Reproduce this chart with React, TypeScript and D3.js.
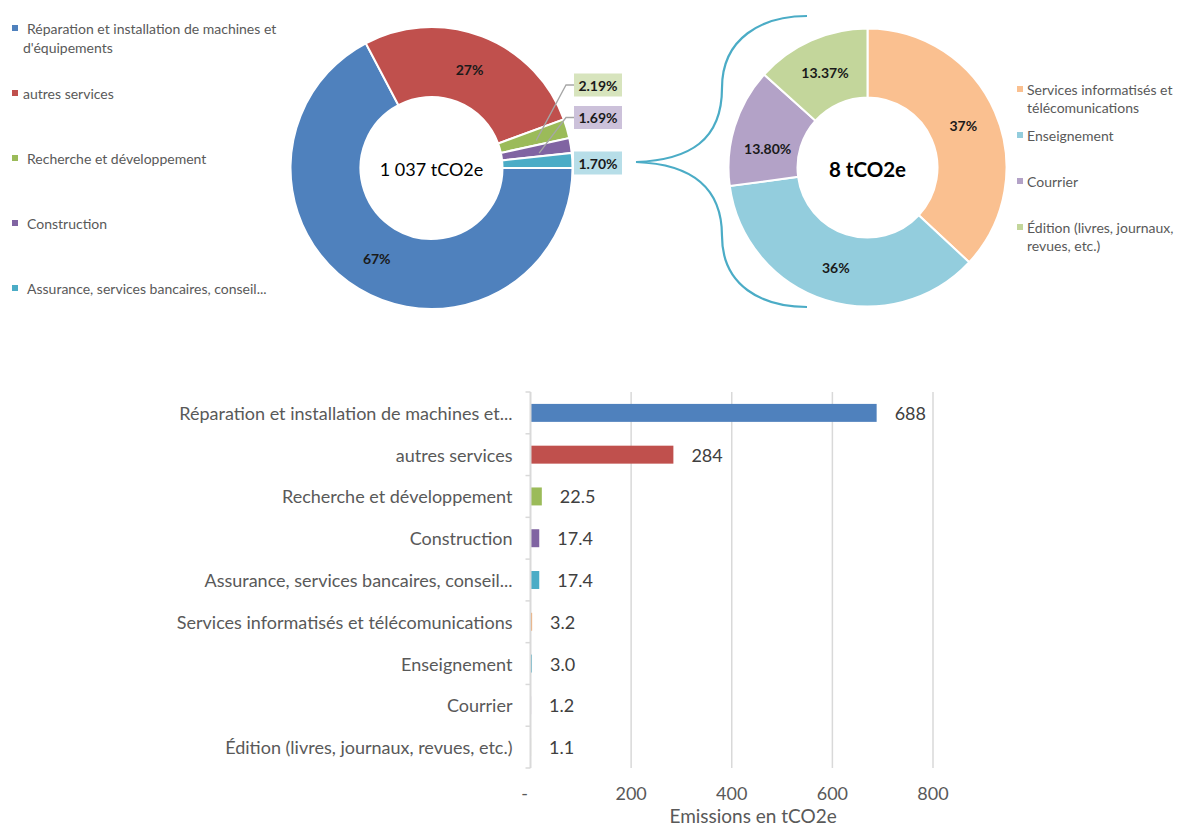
import React from "react";
import * as d3 from "d3";

// ---- data ----
const mainSectors = [
  "Réparation et installation de machines et d'équipements",
  "autres services",
  "Recherche et développement",
  "Construction",
  "Assurance, services bancaires, conseil...",
];
const mainShares = [67, 27, 2.19, 1.69, 1.7];
const mainColors = ["#4F81BD", "#C0504D", "#9BBB59", "#8064A2", "#4BACC6"];
const mainTotal = "1 037 tCO2e";

const detailSectors = [
  "Services informatisés et télécomunications",
  "Enseignement",
  "Courrier",
  "Édition (livres, journaux, revues, etc.)",
];
const detailShares = [37, 36, 13.8, 13.37];
const detailColors = ["#FAC090", "#93CDDD", "#B3A2C7", "#C3D69B"];
const detailTotal = "8 tCO2e";

const barCategories = [
  "Réparation et installation de machines et...",
  "autres services",
  "Recherche et développement",
  "Construction",
  "Assurance, services bancaires, conseil...",
  "Services informatisés et télécomunications",
  "Enseignement",
  "Courrier",
  "Édition (livres, journaux, revues, etc.)",
];
const barValues = [688, 284, 22.5, 17.4, 17.4, 3.2, 3.0, 1.2, 1.1];
const barColors = [
  "#4F81BD", "#C0504D", "#9BBB59", "#8064A2", "#4BACC6",
  "#F79646", "#4BACC6", "#8064A2", "#9BBB59",
];
const xTicks = [0, 200, 400, 600, 800];
const xTitle = "Emissions en tCO2e";

// ---- layout ----
const W = 1179;
const H = 825;
const FONT = "Lato, 'Noto Sans', sans-serif";
const GREY = "#595959";

const pctLabel = (v: number) => (Number.isInteger(v) ? `${v}%` : `${v.toFixed(2)}%`);
const barLabel = (v: number) => (v >= 100 ? d3.format(".0f")(v) : d3.format(".1f")(v));
const tickLabel = (v: number) => (v === 0 ? "-" : String(v));

function wrap(text: string, maxChars: number): string[] {
  const words = text.split(" ");
  const lines: string[] = [];
  let cur = "";
  for (const w of words) {
    const next = cur ? cur + " " + w : w;
    if (next.length > maxChars && cur) {
      lines.push(cur);
      cur = w;
    } else cur = next;
  }
  if (cur) lines.push(cur);
  return lines;
}

function MainDonut() {
  const cx = 431.5, cy = 168, rOut = 141, rIn = 71;
  const pie = d3.pie<number>().sort(null).startAngle(Math.PI / 2).endAngle(Math.PI / 2 + 2 * Math.PI);
  const arcs = pie(mainShares);
  const arc = d3.arc<d3.PieArcDatum<number>>().innerRadius(rIn).outerRadius(rOut);
  const boxX = cx + rOut + 1.5;
  const boxW = 48, boxH = 23;
  const boxFills = ["#D7E4BD", "#CCC1DA", "#B7DEE8"];
  const boxDy = [-83, -50.5, -5];
  return (
    <g transform={`translate(${cx},${cy})`}>
      {arcs.map((a, i) => (
        <path key={i} d={arc(a) || ""} fill={mainColors[i]} stroke="#fff" strokeWidth={2} />
      ))}
      {arcs.slice(0, 2).map((a, i) => {
        const [x, y] = arc.centroid(a);
        return (
          <text key={i} x={x} y={y} textAnchor="middle" dominantBaseline="central"
            fontSize={14} fontWeight={700} fill="#1a1a1a">{pctLabel(mainShares[i])}</text>
        );
      })}
      {arcs.slice(2).map((a, j) => {
        const i = j + 2;
        const [x, y] = arc.centroid(a);
        const by = boxDy[j];
        const bx = boxX - cx;
        return (
          <g key={i}>
            {j < 2 && (
              <polyline points={`${bx},${by} ${bx - 8},${by} ${x + 3},${y + 2}`}
                fill="none" stroke="#A6A6A6" strokeWidth={1.3} />
            )}
            <rect x={bx} y={by - boxH / 2} width={boxW} height={boxH} fill={boxFills[j]} />
            <text x={bx + boxW / 2} y={by} textAnchor="middle" dominantBaseline="central"
              fontSize={14} fontWeight={700} fill="#1a1a1a">{pctLabel(mainShares[i])}</text>
          </g>
        );
      })}
      <text x={0} y={1} textAnchor="middle" dominantBaseline="central" fontSize={18} fill="#000">{mainTotal}</text>
    </g>
  );
}

function DetailDonut() {
  const cx = 867.5, cy = 167.5, rOut = 139, rIn = 70;
  const pie = d3.pie<number>().sort(null);
  const arcs = pie(detailShares);
  const arc = d3.arc<d3.PieArcDatum<number>>().innerRadius(rIn).outerRadius(rOut);
  return (
    <g transform={`translate(${cx},${cy})`}>
      {arcs.map((a, i) => (
        <path key={i} d={arc(a) || ""} fill={detailColors[i]} stroke="#fff" strokeWidth={2} />
      ))}
      {arcs.map((a, i) => {
        const [x, y] = arc.centroid(a);
        const dy = i === 2 ? 12 : 0;
        return (
          <text key={i} x={x} y={y + dy} textAnchor="middle" dominantBaseline="central"
            fontSize={14} fontWeight={700} fill="#1a1a1a">{pctLabel(detailShares[i])}</text>
        );
      })}
      <text x={0} y={1} textAnchor="middle" dominantBaseline="central" fontSize={20.5} fontWeight={700} fill="#000">{detailTotal}</text>
    </g>
  );
}

function Bracket() {
  // curly brace linking the small slices to the detail donut
  const d = "M807,16 C762,16 722,38 722,88 C722,140 690,160 636,162 C690,164 722,186 722,236 C722,286 762,307 807,307";
  return <path d={d} fill="none" stroke="#4BACC6" strokeWidth={2.2} />;
}

function Legends() {
  const left = mainSectors.map((s, i) => ({ s, i, lines: wrap(s, 42) }));
  const right = detailSectors.map((s, i) => ({ s, i, lines: wrap(s, 26) }));
  return (
    <g fontFamily={FONT} fontSize={14} fill={GREY}>
      {left.map(({ i, lines }) => {
        const y = 28 + i * 65;
        return (
          <g key={i}>
            <rect x={12} y={y - 3} width={6} height={6} fill={mainColors[i]} />
            {lines.map((l, k) => (
              <text key={k} x={i === 1 || k > 0 ? 23 : 27} y={y + k * 19} dominantBaseline="central">{l}</text>
            ))}
          </g>
        );
      })}
      {right.map(({ i, lines }) => {
        const y = 89 + i * 46;
        return (
          <g key={i}>
            <rect x={1017} y={y - 3} width={6} height={6} fill={detailColors[i]} />
            {lines.map((l, k) => (
              <text key={k} x={1027} y={y + k * 18} dominantBaseline="central">{l}</text>
            ))}
          </g>
        );
      })}
    </g>
  );
}

function Bars() {
  const top = 392, bottom = 768;
  const x = d3.scaleLinear().domain([0, 800]).range([530.5, 933]);
  const y = d3.scaleBand<string>().domain(barCategories).range([top, bottom]).paddingInner(0.57).paddingOuter(0.285);
  const step = y.step();
  const plotRight = x(885);
  return (
    <g fontFamily={FONT}>
      {xTicks.filter((t) => t > 0).map((t) => (
        <line key={t} x1={x(t)} x2={x(t)} y1={top} y2={bottom} stroke="#D9D9D9" strokeWidth={1.5} />
      ))}
      {barCategories.map((c, i) => (
        <g key={c}>
          <rect x={x(0)} y={y(c)!} width={Math.max(0, x(barValues[i]) - x(0))} height={y.bandwidth()} fill={barColors[i]} />
          <text x={x(0) - 18} y={y(c)! + y.bandwidth() / 2} textAnchor="end" dominantBaseline="central" fontSize={18} fill={GREY}>{c}</text>
          <text x={x(barValues[i]) + 18} y={y(c)! + y.bandwidth() / 2} dominantBaseline="central" fontSize={18} fill="#404040">{barLabel(barValues[i])}</text>
        </g>
      ))}
      <line x1={x(0)} x2={x(0)} y1={top} y2={bottom} stroke="#D9D9D9" strokeWidth={2} />
      {d3.range(barCategories.length + 1).map((k) => (
        <line key={k} x1={x(0) - 5} x2={x(0)} y1={top + k * step} y2={top + k * step} stroke="#D9D9D9" strokeWidth={1.5} />
      ))}
      {xTicks.map((t) => (
        <text key={t} x={t === 0 ? x(t) - 6 : x(t)} y={793} textAnchor="middle" dominantBaseline="central" fontSize={18} fill={GREY}>{tickLabel(t)}</text>
      ))}
      <text x={(x(0) + plotRight) / 2} y={815} textAnchor="middle" dominantBaseline="central" fontSize={19} fill={GREY}>{xTitle}</text>
    </g>
  );
}

export default function App() {
  return (
    <svg width={W} height={H} style={{ position: "absolute", left: 0, top: 0, background: "#fff" }} fontFamily={FONT}>
      <rect width={W} height={H} fill="#fff" />
      <Legends />
      <MainDonut />
      <Bracket />
      <DetailDonut />
      <Bars />
    </svg>
  );
}
